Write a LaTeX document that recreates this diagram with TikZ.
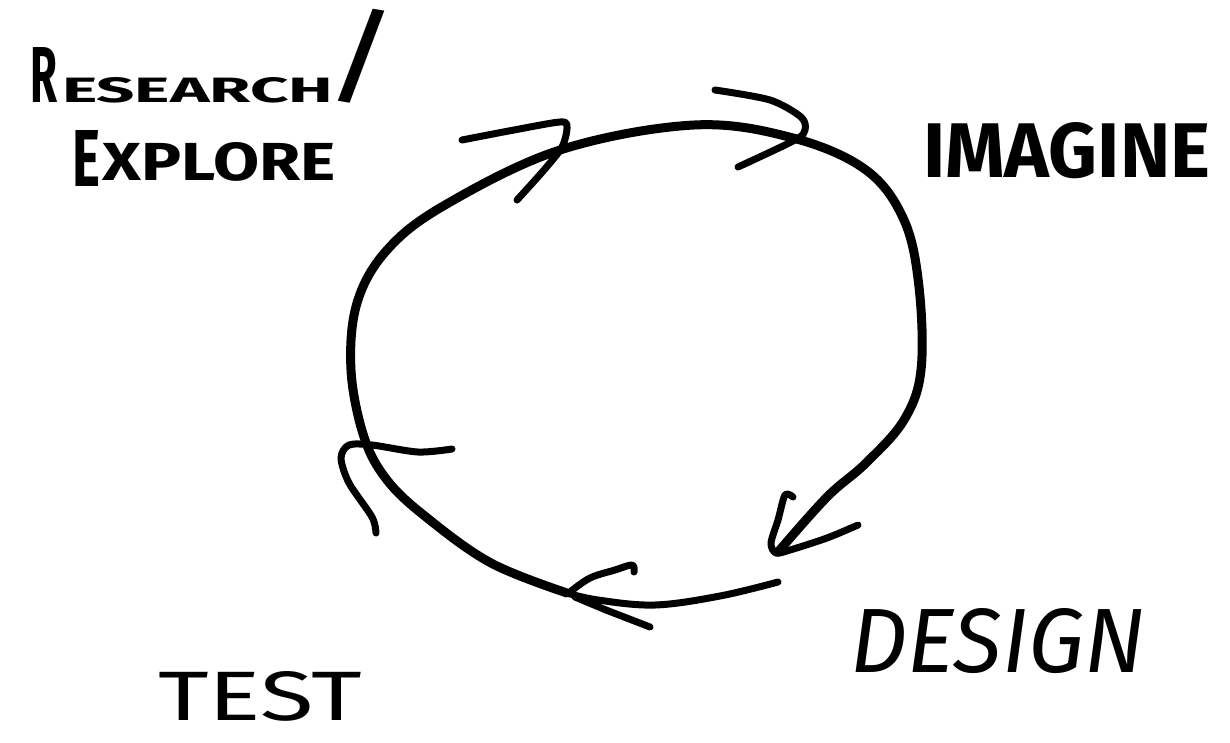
\documentclass[tikz,border=0pt]{standalone}
\usepackage{fontspec}
\setmainfont{Fira Sans}
\usepackage{graphicx}
\begin{document}
\begin{tikzpicture}[x=1pt,y=-1pt,
  stroke/.style={line width=9pt, line cap=round, line join=round},
  barb/.style={line width=7pt, line cap=round, line join=round},
  lbl/.style={inner sep=0pt, outer sep=0pt, anchor=base west, font=\bfseries},
  lblthin/.style={inner sep=0pt, outer sep=0pt, anchor=base west}]
\fill[white] (0,0) rectangle (1230,742);
\useasboundingbox (0,0) rectangle (1230,742);

% main loop (clockwise, from bottom arrow tip round to right arrow tip)
\draw[stroke] plot[smooth, tension=0.6] coordinates {(567,593) (491,563) (426,517) (387,480) (364,437) (351,370) (357,303) (387,250) (445,205) (560,150) (694,125) (793,138) (866,170) (904,220) (919,287) (921,370) (904,420) (866,463) (827,497) (778,552)};

% bottom shaft and arrowhead
\draw[barb] plot[smooth, tension=0.6] coordinates {(778,582) (720,596) (655,605) (598,600) (567,593)};
\draw[barb] plot[smooth, tension=0.6] coordinates {(570,592) (590,578) (615,570) (632,565) (634,572)};
\draw[barb] (575,597) -- (606,610) -- (650,627);

% right arrowhead
\draw[barb] plot[smooth, tension=0.5] coordinates {(793,497) (785,495) (778,520) (771,543) (776,553) (790,550) (827,538) (858,525)};

% top-right chevron
\draw[barb] plot[smooth, tension=0.5] coordinates {(715,90) (770,100) (801,117) (805,130) (795,140) (738,167)};

% top-left chevron
\draw[barb] plot[smooth, tension=0.5] coordinates {(462,140) (514,130) (560,122) (567,127) (562,147) (544,170) (517,200)};

% left hook arrowhead
\draw[barb] plot[smooth, tension=0.5] coordinates {(452,449) (418,452) (372,445) (349,445) (341,458) (349,483) (372,517) (376,533)};

% labels
\node[lbl] (research) at (30,102) {\resizebox{27pt}{55pt}{R}\hspace{5pt}\resizebox{271pt}{25pt}{ESEARCH}};
\node[inner sep=0pt, outer sep=0pt, anchor=south west, font=\mdseries] (slash) at (322,103) {\resizebox*{78pt}{94pt}{/}};
\node[lbl] (explore) at (72,186) {\resizebox{28pt}{56pt}{E}\hspace{3pt}\raisebox{6pt}{\resizebox{233pt}{38pt}{XPLORE}}};
\node[lbl] (imagine) at (923,177) {\resizebox{287pt}{55pt}{IMAGINE}};
\node[lblthin, font=\itshape] (design) at (850,672) {\resizebox{295pt}{64pt}{DESIGN}};
\node[lblthin] (test) at (158,720) {\resizebox{204pt}{49pt}{TEST}};
\end{tikzpicture}
\end{document}
